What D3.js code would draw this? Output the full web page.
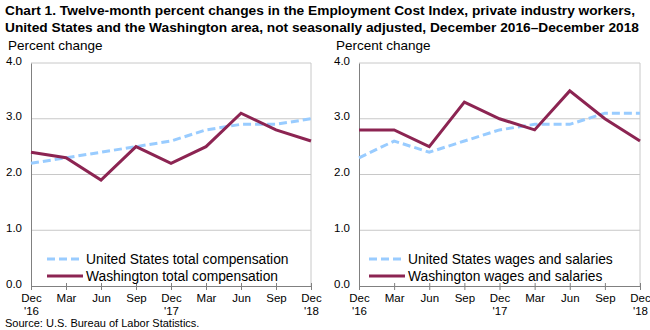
<!DOCTYPE html>
<html>
<head>
<meta charset="utf-8">
<title>ECI Washington</title>
<script src="https://cdnjs.cloudflare.com/ajax/libs/d3/7.8.5/d3.min.js"></script>
<style>
  body { margin: 0; background: #fff; font-family: "Liberation Sans", Arial, sans-serif; }
  svg text { fill: #000; }
</style>
</head>
<body>
<svg id="chart" width="650" height="330"></svg>
<script>
// quarters, Dec 2016 - Dec 2018
const quarters = ["Dec '16", "Mar", "Jun", "Sep", "Dec '17", "Mar", "Jun", "Sep", "Dec '18"];
const usTotal = [2.2, 2.3, 2.4, 2.5, 2.6, 2.8, 2.9, 2.9, 3.0];
const waTotal = [2.4, 2.3, 1.9, 2.5, 2.2, 2.5, 3.1, 2.8, 2.6];
const usWages = [2.3, 2.6, 2.4, 2.6, 2.8, 2.9, 2.9, 3.1, 3.1];
const waWages = [2.8, 2.8, 2.5, 3.3, 3.0, 2.8, 3.5, 3.0, 2.6];
const yTicks = [0, 1, 2, 3, 4];

const blue = "#99ccff", maroon = "#8c2452";
const svg = d3.select("#chart");

svg.append("text").attr("x", 5).attr("y", 15)
  .style("font-size", "13.6px").style("font-weight", "bold")
  .attr("textLength", 630).attr("lengthAdjust", "spacingAndGlyphs")
  .text("Chart 1. Twelve-month percent changes in the Employment Cost Index, private industry workers,");
svg.append("text").attr("x", 5).attr("y", 32)
  .style("font-size", "13.3px").style("font-weight", "bold")
  .attr("textLength", 634).attr("lengthAdjust", "spacingAndGlyphs")
  .text("United States and the Washington area, not seasonally adjusted, December 2016\u2013December 2018");
svg.append("text").attr("x", 5).attr("y", 327)
  .style("font-size", "11px").text("Source: U.S. Bureau of Labor Statistics.");

function panel(left, right, usVals, waVals, usName, waName, legendOffset) {
  const top = 63, bottom = 286;
  const x = d3.scalePoint().domain(d3.range(quarters.length)).range([left, right]);
  const y = d3.scaleLinear().domain([0, 4]).range([bottom, top]);
  const g = svg.append("g");

  g.append("text").attr("x", left - 23).attr("y", 50)
    .style("font-size", "13.5px").text("Percent change");

  // grid lines + frame
  g.selectAll(".grid").data(yTicks.slice(1)).join("line")
    .attr("x1", left).attr("x2", right)
    .attr("y1", d => y(d)).attr("y2", d => y(d))
    .attr("stroke", "#c8c8c8").attr("stroke-width", 1);
  g.append("line").attr("x1", right).attr("x2", right).attr("y1", top).attr("y2", bottom)
    .attr("stroke", "#c8c8c8");

  const yAxis = g.append("g").attr("transform", `translate(${left},0)`)
    .call(d3.axisLeft(y).tickValues(yTicks).tickFormat(d3.format(".1f")).tickSize(0).tickPadding(9));
  yAxis.select(".domain").attr("stroke", "#808080");
  yAxis.selectAll("text").style("font-size", "11.5px").style("font-family", "Liberation Sans, Arial").attr("dy", "0.1em");

  const xAxis = g.append("g").attr("transform", `translate(0,${bottom})`)
    .call(d3.axisBottom(x).tickSize(4).tickSizeOuter(0).tickFormat(""));
  xAxis.select(".domain").attr("stroke", "#808080");
  xAxis.selectAll(".tick line").attr("y1", -3).attr("y2", 4).attr("stroke", "#808080");
  xAxis.selectAll(".tick").each(function (d) {
    const parts = quarters[d].split(" ");
    const t = d3.select(this).append("text").attr("text-anchor", "middle")
      .style("font-size", "11.5px").style("font-family", "Liberation Sans, Arial").attr("fill", "#000");
    parts.forEach((p, i) => t.append("tspan").attr("x", 0).attr("y", 16 + i * 13).text(p));
  });

  const line = d3.line().x((d, i) => x(i)).y(d => y(d));
  g.append("path").datum(usVals).attr("d", line).attr("fill", "none")
    .attr("stroke", blue).attr("stroke-width", 3).attr("stroke-dasharray", "8,4");
  g.append("path").datum(waVals).attr("d", line).attr("fill", "none")
    .attr("stroke", maroon).attr("stroke-width", 3);

  // legend
  const lx = left + legendOffset;
  [[usName, blue, "8,4", 259], [waName, maroon, null, 276]].forEach(([name, c, dash, ly]) => {
    g.append("line").attr("x1", lx).attr("x2", lx + 36).attr("y1", ly).attr("y2", ly)
      .attr("stroke", c).attr("stroke-width", 3).attr("stroke-dasharray", dash);
    g.append("text").attr("x", lx + 39).attr("y", ly + 5)
      .style("font-size", "13.8px").text(name);
  });
}

panel(31, 311, usTotal, waTotal, "United States total compensation", "Washington total compensation", 16);
panel(359, 640, usWages, waWages, "United States wages and salaries", "Washington wages and salaries", 10);
</script>
</body>
</html>
